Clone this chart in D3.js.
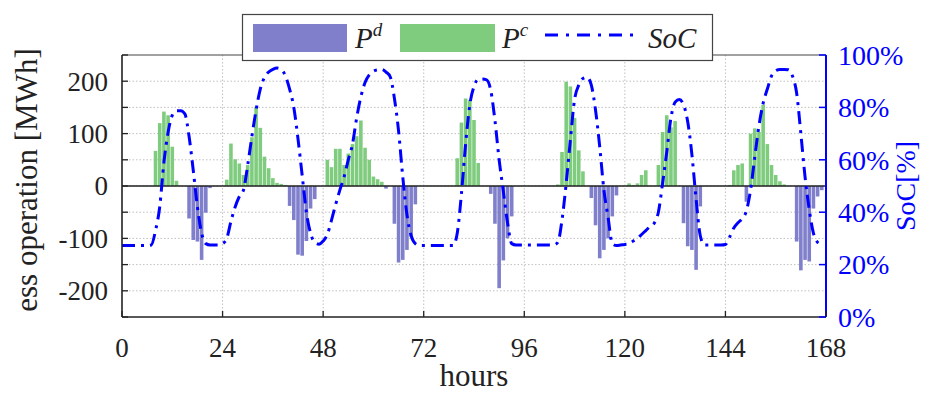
<!DOCTYPE html>
<html><head><meta charset="utf-8">
<script src="https://cdn.jsdelivr.net/npm/d3@7"></script>
<style>body{margin:0;background:#fff} svg{display:block}</style>
</head><body><svg id="c" width="943" height="394"></svg>
<script>
// ---- data ----
const hours = d3.range(0, 168);
const charge = [0,0,0,0,0,0,0,0, 67,120,142,135,75,10, 0,0,0,0,0,0,0,0,0,0,0,
  12,81,51,43,21,40,93,151,111,56,34,15,6,4,2, 0,0,0,0,0,0,0,0,0,
  50,36,71,71,40,62,80,95,125,73,50,18,13,8, 0,0,0,0,0,0,0,0,0,0,0,0,0,0,0,0,0,
  53,121,167,164,126,44, 0,0,0,0,0,0,0,0,0,0,0,0,0,0,0,0,0,0,
  3,65,199,190,130,68,28, 0,0,0,0,0,0,0,0,0,0, 5,2,5,21,30, 0,0, 40,103,135,112,124,
  0,0,0,0,0,0,0,0,0,0,0,0, 2,30,40,43,0,100,110,103,155,80,40,21,9,3, 0,0,0,0,0,0,0,0,0];
const discharge = [0,0,0,0,0,0,0,0,0,0,0,0,0,0,0,0, -62,-103,-106,-141,-51,-4,
  0,0,0,0,0,0,0,0,0,0,0,0,0,0,0,0,0,0, -38,-65,-131,-133,-105,-43,-25,
  0,0,0,0,0,0,0,0,0,0,0,0,0,0,0,0, -5, 0, -72,-146,-141,-122,-97,-35,
  0,0,0,0,0,0,0,0,0,0,0,0,0,0,0,0,0, -15,-72,-195,-142,-100,-58,
  0,0,0,0,0,0,0,0,0,0,0,0,0,0,0,0,0,0, -23,-75,-138,-122,-100,-58,-18,
  0,0,0,0,0,0,0,0,0,0,0,0,0,0,0, -71,-115,-122,-160,-39,
  0,0,0,0,0,0,0,0,0,0, -30, 0,0,0,0,0,0,0,0,0,0,0, -106,-161,-141,-144,-43,-20,-8];
const soc = [27.3,27.3,27.3,27.3,27.3,27.3,27.3,27.5,33,42,59,70.5,77,78.7,78.7,77.5,69,56,42,32,28,27.5,27.5,27.5,
  28,30,36.5,42,46,48.5,58,69,79,87,91.5,93.5,94.5,95,94.5,92,87,80,68,54,40,32,28.5,27.8,
  29,31.5,37,43,48.5,53.5,60,66,76,84,89.5,92.4,93.8,94.3,94.5,93.5,91.7,83.5,71,53.5,39,31,28,27.3,
  27.3,27.3,27.3,27.3,27.3,27.3,27.3,27.3,32,47,66,81,88,90.7,90.8,90.5,86.5,75,60,48,36,28,27.5,27.5,
  27.5,27.5,27.5,27.5,27.5,27.5,27.5,27.5,28.5,37,51,67.6,83,88.5,91,91.5,88.5,79,65,48.5,38,28,27.3,27.5,
  27.7,28,29,30,31.5,33,34.5,35.8,40,51,63,76,82,83,81,74.5,62,45,31,27.5,27.5,27.5,27.5,27.5,
  27.7,30.5,34,36,37.5,40.5,48.5,61,73,81.6,87,92,94,94.5,94.5,94.4,92,85.4,70,53.5,41,32,28.5,27.5];
const xTicks = [0,24,48,72,96,120,144,168];
const leftTicks = [-200,-100,0,100,200];
const leftMinor = [-250,-150,-50,50,150,250];
const rightTicks = [0,20,40,60,80,100];
const legendLabels = [{b:"P", s:"d"}, {b:"P", s:"c"}, {b:"SoC", s:""}];

// ---- layout ----
const svg = d3.select("#c");
const L = 122, R = 826, T = 55, B = 317;
const FONT = "'Liberation Serif','DejaVu Serif',serif";
const BLUE = "#0000ff";
const x = d3.scaleLinear().domain([0,168]).range([L,R]);
const y = d3.scaleLinear().domain([-250,250]).range([B,T]);
const y2 = d3.scaleLinear().domain([0,100]).range([B,T]);

// grid
const grid = svg.append("g").attr("stroke","#b0b0b0").attr("stroke-width",0.8).attr("stroke-dasharray","1.5,2");
grid.selectAll("line.h").data(d3.range(-200,250,50)).join("line")
  .attr("x1",L).attr("x2",R).attr("y1",d=>y(d)).attr("y2",d=>y(d));
grid.selectAll("line.v").data(xTicks.slice(1,-1)).join("line")
  .attr("y1",T).attr("y2",B).attr("x1",d=>x(d)).attr("x2",d=>x(d));

// bars
const bw = x(1)-x(0);
svg.append("g").selectAll("rect").data(hours.filter(h=>charge[h]>0)).join("rect")
  .attr("x",h=>x(h)-bw/2+0.3).attr("width",bw-0.6)
  .attr("y",h=>y(charge[h])).attr("height",h=>y(0)-y(charge[h]))
  .attr("fill","#7fcc7f");
svg.append("g").selectAll("rect").data(hours.filter(h=>discharge[h]<0)).join("rect")
  .attr("x",h=>x(h)-bw/2+0.3).attr("width",bw-0.6)
  .attr("y",y(0)).attr("height",h=>y(discharge[h])-y(0))
  .attr("fill","#7f7fcc");

// zero line
svg.append("line").attr("x1",L).attr("x2",R).attr("y1",y(0)).attr("y2",y(0))
  .attr("stroke","#222").attr("stroke-width",1.5);

// SoC line
const line = d3.line().x((d,i)=>x(i)).y(d=>y2(d)).curve(d3.curveMonotoneX);
svg.append("path").datum(soc).attr("d",line).attr("fill","none")
  .attr("stroke",BLUE).attr("stroke-width",3).attr("stroke-dasharray","13,6,3,6");

// frame
svg.append("line").attr("x1",L).attr("x2",R).attr("y1",T).attr("y2",T).attr("stroke","#444").attr("stroke-width",1.2);
svg.append("line").attr("x1",L).attr("x2",R).attr("y1",B).attr("y2",B).attr("stroke","#222").attr("stroke-width",1.6);
svg.append("line").attr("x1",L).attr("x2",L).attr("y1",T).attr("y2",B).attr("stroke","#222").attr("stroke-width",1.6);
svg.append("line").attr("x1",R).attr("x2",R).attr("y1",T).attr("y2",B).attr("stroke",BLUE).attr("stroke-width",2);

// left ticks
const lt = svg.append("g").attr("stroke","#222").attr("stroke-width",1.3);
lt.selectAll("line").data(leftTicks.concat(leftMinor)).join("line")
  .attr("x1",L).attr("x2",L+6).attr("y1",d=>y(d)).attr("y2",d=>y(d));
svg.append("g").selectAll("text").data(leftTicks).join("text")
  .attr("x",L-14).attr("y",d=>y(d)).attr("dy","0.35em").attr("text-anchor","end")
  .attr("font-family",FONT).attr("font-size",27).attr("fill","#222")
  .text(d=>String(d));

// bottom ticks
svg.append("g").attr("stroke","#222").attr("stroke-width",1.3).selectAll("line").data(xTicks).join("line")
  .attr("x1",d=>x(d)).attr("x2",d=>x(d)).attr("y1",B).attr("y2",B-6);
svg.append("g").selectAll("text").data(xTicks).join("text")
  .attr("x",d=>x(d)).attr("y",B+40).attr("text-anchor","middle")
  .attr("font-family",FONT).attr("font-size",27).attr("fill","#222").text(d=>d);

// right ticks
svg.append("g").attr("stroke",BLUE).attr("stroke-width",1.5).selectAll("line").data(rightTicks).join("line")
  .attr("x1",R).attr("x2",R-7).attr("y1",d=>y2(d)).attr("y2",d=>y2(d));
svg.append("g").selectAll("text").data(rightTicks).join("text")
  .attr("x",R+12).attr("y",d=>y2(d)).attr("dy","0.35em")
  .attr("font-family",FONT).attr("font-size",28).attr("fill",BLUE).text(d=>d+"%");

// axis labels
svg.append("text").attr("transform",`translate(37,${(T+B)/2-6}) rotate(-90)`)
  .attr("text-anchor","middle").attr("font-family",FONT).attr("font-size",31).attr("fill","#222")
  .text("ess operation [MWh]");
svg.append("text").attr("x",(L+R)/2).attr("y",386).attr("text-anchor","middle")
  .attr("font-family",FONT).attr("font-size",31).attr("fill","#222").text("hours");
svg.append("text").attr("transform",`translate(915,${(T+B)/2}) rotate(-90)`)
  .attr("text-anchor","middle").attr("font-family",FONT).attr("font-size",28).attr("fill",BLUE)
  .text("SoC[%]");

// legend
const lg = svg.append("g");
lg.append("rect").attr("x",242.5).attr("y",14.5).attr("width",470).attr("height",46)
  .attr("fill","#fff").attr("stroke","#444").attr("stroke-width",1.2);
lg.append("rect").attr("x",253).attr("y",24).attr("width",94).attr("height",28).attr("fill","#7f7fcc");
lg.append("rect").attr("x",400).attr("y",24).attr("width",95).attr("height",28).attr("fill","#7fcc7f");
lg.append("line").attr("x1",545).attr("x2",640).attr("y1",35).attr("y2",35)
  .attr("stroke",BLUE).attr("stroke-width",3).attr("stroke-dasharray","13,8,3,8");
const lx = [355, 502, 648];
legendLabels.forEach((l,i)=>{
  const t = lg.append("text").attr("x",lx[i]).attr("y",48).attr("font-family",FONT)
    .attr("font-style","italic").attr("font-size",29).attr("fill","#222");
  t.append("tspan").text(l.b);
  if (l.s) t.append("tspan").attr("dy",-12).attr("font-size",19).text(l.s);
});
</script></body></html>
